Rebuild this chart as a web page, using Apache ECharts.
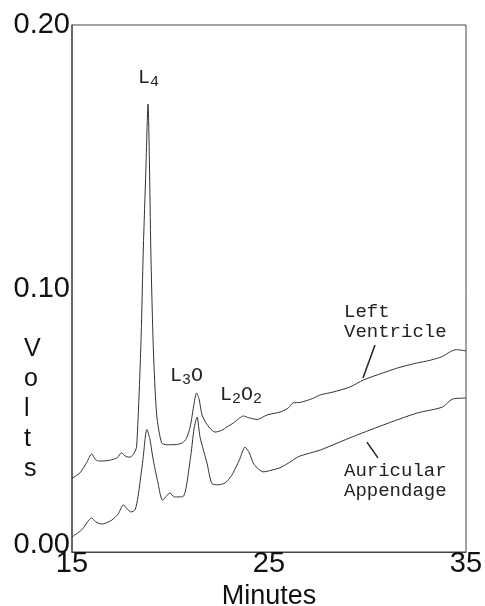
<!DOCTYPE html>
<html>
<head>
<meta charset="utf-8">
<script src="https://cdn.jsdelivr.net/npm/echarts@6/dist/echarts.min.js"></script>
<style>
  html, body { margin: 0; padding: 0; background: #fff; }
  #chart { width: 485px; height: 606px; }
</style>
</head>
<body>
<div id="chart"></div>
<script>
// Chromatogram traces: retention time (minutes) vs detector signal (volts)
const lvTime = [15.0, 15.4, 15.75, 16.0, 16.2, 16.4, 16.9, 17.3, 17.5, 17.75, 17.95, 18.15, 18.28, 18.49, 18.62, 18.75, 18.86, 18.93, 19.0, 19.13, 19.3, 19.55, 19.8, 20.3, 20.6, 20.8, 21.0, 21.2, 21.32, 21.45, 21.6, 21.8, 22.0, 22.26, 22.6, 22.87, 23.2, 23.5, 23.7, 23.95, 24.4, 24.9, 25.6, 26.0, 26.2, 26.6, 27.2, 27.6, 28.25, 29.1, 29.8, 30.8, 31.6, 32.5, 33.2, 33.8, 34.2, 34.5, 35.0];
const lvVolts = [0.028, 0.030, 0.034, 0.0372, 0.035, 0.0345, 0.0348, 0.0358, 0.0376, 0.0362, 0.036, 0.0375, 0.040, 0.077, 0.115, 0.145, 0.170, 0.148, 0.115, 0.077, 0.052, 0.0414, 0.0407, 0.0408, 0.0414, 0.043, 0.0475, 0.0565, 0.0603, 0.058, 0.052, 0.049, 0.047, 0.0455, 0.0462, 0.0475, 0.049, 0.0508, 0.0516, 0.051, 0.0503, 0.052, 0.0532, 0.0548, 0.0565, 0.0568, 0.0582, 0.0596, 0.0607, 0.0626, 0.0653, 0.068, 0.070, 0.0717, 0.0728, 0.0742, 0.0760, 0.0768, 0.0763];

const aaTime = [15.0, 15.5, 15.85, 16.0, 16.2, 16.5, 17.0, 17.35, 17.6, 18.0, 18.2, 18.35, 18.6, 18.8, 18.95, 19.1, 19.37, 19.6, 19.97, 20.2, 20.63, 21.0, 21.2, 21.35, 21.5, 21.85, 22.1, 22.4, 22.77, 23.1, 23.5, 23.78, 24.0, 24.2, 24.4, 24.7, 25.1, 25.56, 26.0, 26.5, 27.6, 29.1, 30.8, 32.5, 33.8, 34.3, 34.85, 35.0];
const aaVolts = [0.0057, 0.0085, 0.012, 0.0129, 0.0115, 0.0106, 0.012, 0.0145, 0.0178, 0.0152, 0.016, 0.021, 0.035, 0.0465, 0.043, 0.036, 0.026, 0.0197, 0.0224, 0.0209, 0.021, 0.035, 0.047, 0.0512, 0.0436, 0.0338, 0.026, 0.0255, 0.0262, 0.029, 0.035, 0.0398, 0.0376, 0.0338, 0.0319, 0.0304, 0.031, 0.032, 0.0338, 0.0362, 0.0387, 0.0433, 0.0482, 0.0527, 0.055, 0.058, 0.0584, 0.0585];

// Axis ranges and tick labels
const xTicks = [15, 25, 35];
const yTicks = ['0.00', '0.10', '0.20'];

// Leader lines from the trace names to their traces: [[t1, v1], [t2, v2]]
const lvLeader = [[30.38, 0.0786], [29.77, 0.0660]];
const aaLeader = [[29.97, 0.0417], [30.53, 0.0357]];

const zip = (xs, ys) => xs.map((x, i) => [x, ys[i]]);

const chart = echarts.init(document.getElementById('chart'), null, { renderer: 'canvas' });

const sans = '"Liberation Sans", Arial, sans-serif';
const mono = '"Liberation Mono", "DejaVu Sans Mono", monospace';
const ink = '#333';

const leaderLine = pts => ({
  silent: true,
  symbol: ['none', 'none'],
  label: { show: false },
  emphasis: { disabled: true },
  lineStyle: { color: '#222', width: 1.5, type: 'solid' },
  data: [[{ coord: pts[0] }, { coord: pts[1] }]]
});

const peakLabel = (x, y, parts) => ({
  type: 'text',
  left: x, top: y,
  style: {
    text: parts,
    fill: '#222',
    font: '20px ' + mono,
    rich: {
      m: { fontSize: 20, fontFamily: mono, fill: '#222' },
      s: { fontSize: 15, fontFamily: mono, fill: '#222', padding: [8, 0, 0, 0] }
    }
  }
});

chart.setOption({
  animation: false,
  backgroundColor: '#fff',
  grid: {
    left: 72, right: 19, top: 25, bottom: 54,
    containLabel: false, outerBoundsMode: 'none',
    show: true, borderColor: '#444', borderWidth: 1
  },
  xAxis: {
    type: 'value',
    min: 15, max: 35, interval: 10,
    name: 'Minutes',
    nameLocation: 'middle',
    nameGap: 28,
    nameTextStyle: { fontSize: 27, fontFamily: sans, color: '#111' },
    axisLine: { show: true, lineStyle: { color: '#444', width: 1 } },
    axisTick: { show: false },
    splitLine: { show: false },
    axisLabel: {
      fontSize: 29, fontFamily: sans, color: '#111', margin: -3,
      formatter: v => String(xTicks.find(t => t === v) ?? v)
    }
  },
  yAxis: {
    type: 'value',
    min: 0, max: 0.2, interval: 0.1,
    axisLine: { show: true, lineStyle: { color: '#555', width: 1.5 } },
    axisTick: { show: false },
    splitLine: { show: false },
    axisLabel: {
      fontSize: 29, fontFamily: sans, color: '#111', margin: 2,
      // the bottom label sits a little above the corner, clear of the x labels
      formatter: v => {
        const t = yTicks[Math.round(v * 10)];
        return v === 0 ? '{lo|' + t + '}' : t;
      },
      rich: {
        lo: { fontSize: 29, fontFamily: sans, color: '#111', padding: [0, 0, 14, 0] }
      }
    }
  },
  series: [
    {
      name: 'Left Ventricle',
      type: 'line',
      data: zip(lvTime, lvVolts),
      showSymbol: false,
      smooth: 0.25,
      lineStyle: { color: ink, width: 1 },
      markLine: leaderLine(lvLeader)
    },
    {
      name: 'Auricular Appendage',
      type: 'line',
      data: zip(aaTime, aaVolts),
      showSymbol: false,
      smooth: 0.25,
      lineStyle: { color: ink, width: 1 },
      markLine: leaderLine(aaLeader)
    }
  ],
  graphic: [
    {
      type: 'text', left: 24, top: 334,
      style: {
        text: 'V\no\nl\nt\ns',
        font: '25px ' + sans,
        fill: '#111',
        lineHeight: 30,
        align: 'center'
      }
    },
    peakLabel(138, 68, '{m|L}{s|4}'),
    peakLabel(170, 366, '{m|L}{s|3}{m|O}'),
    peakLabel(220, 385, '{m|L}{s|2}{m|O}{s|2}'),
    {
      type: 'text', left: 344, top: 302,
      style: { text: 'Left\nVentricle', font: '19px ' + mono, fill: '#222', lineHeight: 20 }
    },
    {
      type: 'text', left: 344, top: 461,
      style: { text: 'Auricular\nAppendage', font: '19px ' + mono, fill: '#222', lineHeight: 20 }
    }
  ]
});
</script>
</body>
</html>
